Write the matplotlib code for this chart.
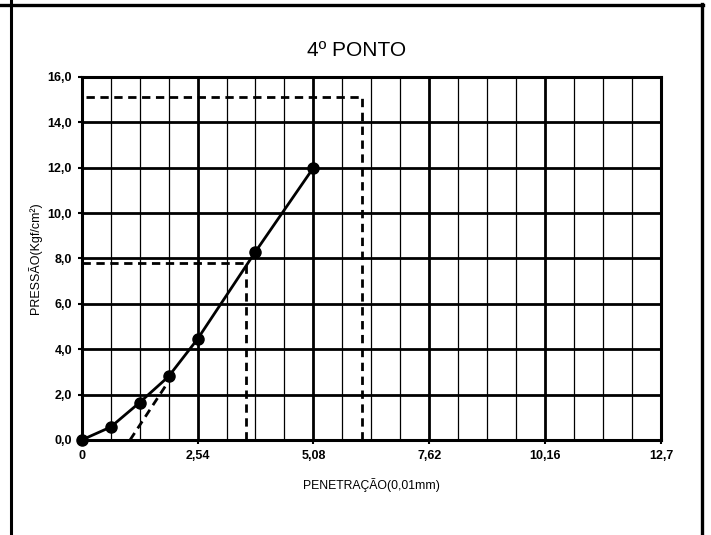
import matplotlib
matplotlib.use("Agg")
import matplotlib.pyplot as plt
from matplotlib.lines import Line2D
import numpy as np

plt.rcParams['font.family'] = ['Liberation Sans', 'DejaVu Sans']

# Data
penetracao = [0.0, 0.635, 1.27, 1.905, 2.54, 3.81, 5.08]
pressao = [0.0, 0.57, 1.65, 2.80, 4.45, 8.30, 12.0]
xticks = [0.0, 2.54, 5.08, 7.62, 10.16, 12.7]
xtick_labels = ["0", "2,54", "5,08", "7,62", "10,16", "12,7"]
yticks = [0, 2, 4, 6, 8, 10, 12, 14, 16]
ytick_labels = ["0,0", "2,0", "4,0", "6,0", "8,0", "10,0", "12,0", "14,0", "16,0"]
correcao = 1.06
tangente_x = [1.06, 1.86]
tangente_y = [0.0, 2.45]
p_254 = 7.8
p_508 = 15.1

fig = plt.figure(figsize=(7.11, 5.35), dpi=100)
ax = fig.add_axes([0.1149, 0.1776, 0.8148, 0.6785])

ax.set_xlim(0, 12.7)
ax.set_ylim(0, 16)

# grid
minor_x = np.arange(0, 12.7 + 1e-6, 0.635)
ax.set_xticks(minor_x, minor=True)
ax.set_xticks(xticks)
ax.set_xticklabels(xtick_labels, fontsize=9, fontweight='bold')
ax.set_yticks(yticks)
ax.set_yticklabels(ytick_labels, fontsize=9, fontweight='bold')
ax.grid(which='minor', axis='x', color='black', linewidth=0.9)
ax.grid(which='major', axis='both', color='black', linewidth=2.0)
ax.set_axisbelow(True)
ax.tick_params(which='major', direction='out', length=3, width=1.5, pad=4)
ax.tick_params(which='minor', length=0)
for s in ax.spines.values():
    s.set_linewidth(2.2)

# dashed construction lines
dash = dict(color='black', linewidth=2.0, linestyle=(0, (3, 2)), zorder=3)
x1 = 2.54 + correcao
x2 = 5.08 + correcao
ax.plot([0.0, x1], [p_254, p_254], **dash)
ax.plot([x1, x1], [0, p_254], **dash)
ax.plot([0.1, x2], [p_508, p_508], **dash)
ax.plot([x2, x2], [0, p_508], **dash)
ax.plot(tangente_x, tangente_y, **dash)

# curve
ax.plot(penetracao, pressao, color='black', linewidth=2.0, marker='o',
        markersize=8, zorder=4, clip_on=False)

ax.set_xlabel("PENETRAÇÃO(0,01mm)", fontsize=8.8, labelpad=12)
ax.set_ylabel("PRESSÃO(Kgf/cm²)", fontsize=9, labelpad=4)
fig.text(0.502, 0.906, "4º PONTO", fontsize=15, ha='center', va='center')

# outer frame
fig.add_artist(Line2D([0, 703/711], [1-5/535, 1-5/535], color='black', linewidth=2.4))
fig.add_artist(Line2D([11/711, 11/711], [0, 1], color='black', linewidth=2.2))
fig.add_artist(Line2D([702/711, 702/711], [0, 1-4/535], color='black', linewidth=2.4))

fig.savefig("out.png", dpi=100)
